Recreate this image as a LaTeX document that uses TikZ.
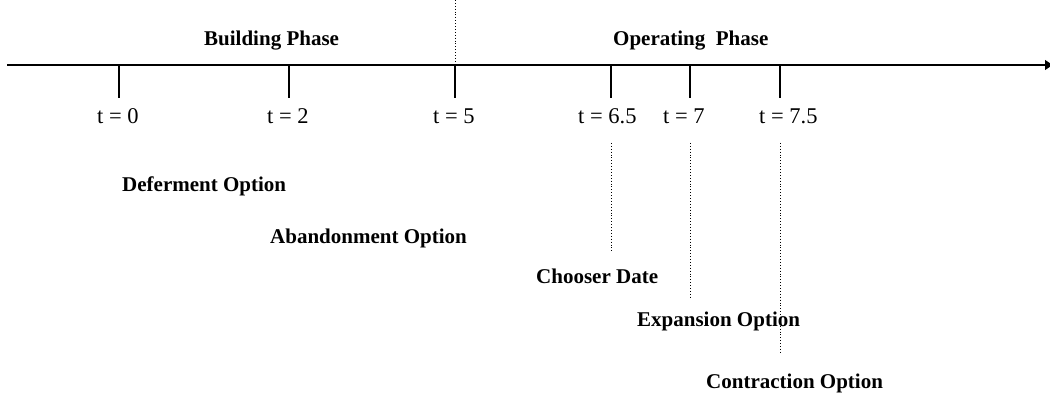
\documentclass[tikz,border=0pt]{standalone}
\usepackage{fontspec}
\setmainfont{Liberation Serif}
\usetikzlibrary{arrows.meta}
\begin{document}
\begin{tikzpicture}[x=1pt,y=-1pt,
  lbl/.style={font=\bfseries\fontsize{21}{24}\selectfont, inner sep=0pt, anchor=base west},
  tlbl/.style={font=\fontsize{22.5}{26}\selectfont, inner sep=0pt, anchor=base west},
  tick/.style={line width=1.6pt},
  guide/.style={line width=0.9pt, dotted}]
\useasboundingbox (0,0) rectangle (1050,401);
\clip (0,0) rectangle (1050,401);
% axis
\coordinate (s) at (7,65);
\coordinate (e) at (1054,65);
\draw[line width=2pt,-{Latex[length=9pt,width=11pt]}] (s) -- (e);
% ticks
\foreach \n/\x in {a/119,b/289,c/455,d/611,f/690,g/780}{
  \coordinate (\n top) at (\x,65);
  \coordinate (\n bot) at (\x,98);
  \draw[tick] (\n top) -- (\n bot);
}
% dotted guides
\coordinate (cup) at (455,0);
\draw[guide] (cup) -- (ctop);
\coordinate (d1) at (611,143); \coordinate (d2) at (611,253);
\coordinate (f1) at (690,143); \coordinate (f2) at (690,298);
\coordinate (g1) at (780,143); \coordinate (g2) at (780,353);
\draw[guide] (d1) -- (d2);
\draw[guide] (f1) -- (f2);
\draw[guide] (g1) -- (g2);
% phase labels
\node[lbl] (bp) at (204,46) {Building Phase};
\node[lbl] (op) at (613,46) {Operating\ \ Phase};
% time labels
\node[tlbl] (t0) at (97,124) {t = 0};
\node[tlbl] (t2) at (267,124) {t = 2};
\node[tlbl] (t5) at (433,124) {t = 5};
\node[tlbl] (t65) at (578,124) {t = 6.5};
\node[tlbl] (t7) at (663,124) {t = 7};
\node[tlbl] (t75) at (759,124) {t = 7.5};
% options
\node[lbl] (def) at (122,191) {Deferment Option};
\node[lbl] (aba) at (270,243) {Abandonment Option};
\node[lbl] (cho) at (536,283) {Chooser Date};
\node[lbl] (exp) at (637,326) {Expansion Option};
\node[lbl] (con) at (706,388) {Contraction Option};
\end{tikzpicture}
\end{document}
